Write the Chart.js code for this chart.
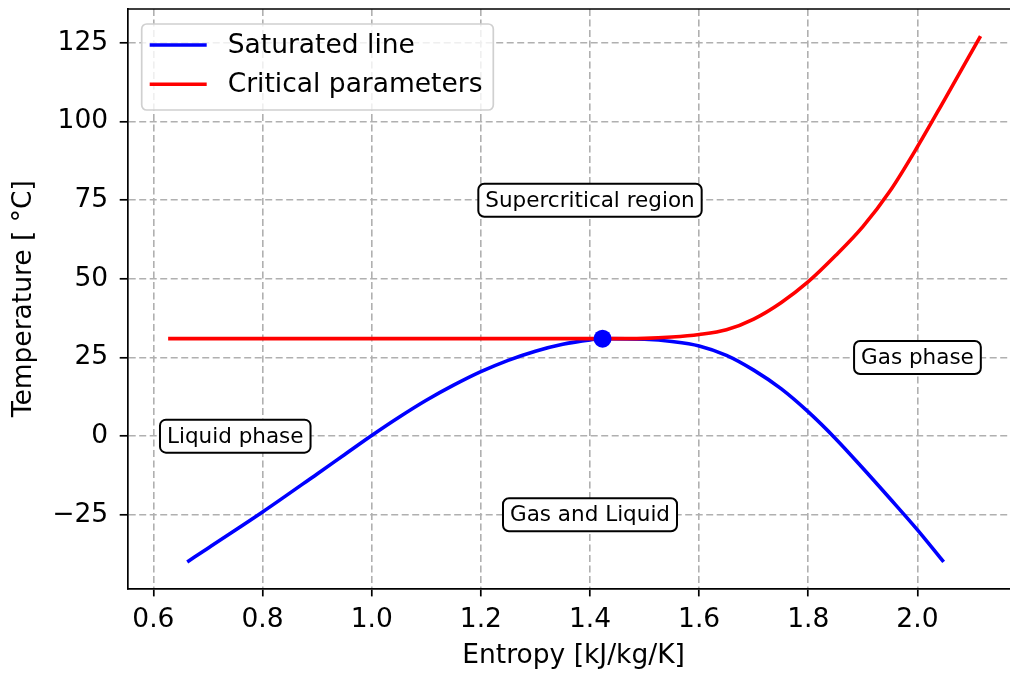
<!DOCTYPE html>
<html>
<head>
<meta charset="utf-8">
<script src="https://cdn.jsdelivr.net/npm/chart.js@4/dist/chart.umd.min.js"></script>
<style>
  html, body { margin: 0; padding: 0; overflow: hidden; background: #ffffff; }
  #wrap { width: 1030px; height: 675px; }
</style>
</head>
<body>
<div id="wrap"><canvas id="c" width="1030" height="675"></canvas></div>
<script>
// ---- data ----
const satEntropy = [0.662, 0.7, 0.8, 0.9, 0.95, 1.0, 1.05, 1.1, 1.15, 1.2, 1.25, 1.3, 1.35, 1.4, 1.423, 1.5, 1.55, 1.6, 1.65, 1.7, 1.75, 1.8, 1.85, 1.9, 1.95, 2.0, 2.048];
const satTemp    = [-40, -35.6, -24.1, -12.0, -5.9, 0.2, 6.0, 11.4, 16.2, 20.5, 24.1, 27.0, 29.2, 30.6, 31.0, 30.8, 30.1, 28.7, 25.7, 21.0, 15.1, 7.7, -0.8, -10.2, -19.9, -29.8, -40];
const critEntropy = [0.627, 1.0, 1.423, 1.5, 1.55, 1.6, 1.65, 1.7, 1.75, 1.8, 1.85, 1.9, 1.95, 2.0, 2.05, 2.1, 2.1156];
const critTemp    = [31.0, 31.0, 31.0, 31.1, 31.5, 32.3, 33.8, 37.2, 42.4, 49.1, 57.4, 66.6, 78.0, 92.0, 107.1, 122.4, 127.2];
const critPointEntropy = [1.423];
const critPointTemp    = [31.0];
const seriesLabels = ['Saturated line', 'Critical parameters'];

const xTicks = [0.6, 0.8, 1.0, 1.2, 1.4, 1.6, 1.8, 2.0];
const xTickLabels = ['0.6', '0.8', '1.0', '1.2', '1.4', '1.6', '1.8', '2.0'];
const yTicks = [-25, 0, 25, 50, 75, 100, 125];
const yTickLabels = ['\u221225', '0', '25', '50', '75', '100', '125'];

const annoLabels = ['Supercritical region', 'Liquid phase', 'Gas and Liquid', 'Gas phase'];
const annoX = [1.4, 0.75, 1.4, 2.0];
const annoY = [75, 0, -25, 25];

// ---- helpers / styling ----
const FONT = 'DejaVu Sans';
const mainSize = 26.5;
const annoSize = 21.5;
const toXY = (xs, ys) => xs.map((x, i) => ({ x: x, y: ys[i] }));

const framePlugin = {
  id: 'frameAndText',
  afterDatasetsDraw(chart) {
    const ctx = chart.ctx;
    const a = chart.chartArea;
    const xs = chart.scales.x, ys = chart.scales.y;
    // annotation boxes
    ctx.save();
    ctx.font = annoSize + 'px "' + FONT + '"';
    ctx.textAlign = 'center';
    ctx.textBaseline = 'middle';
    annoLabels.forEach((t, i) => {
      const px = xs.getPixelForValue(annoX[i]);
      const py = ys.getPixelForValue(annoY[i]);
      const w = ctx.measureText(t).width + 14;
      const h = 33;
      ctx.beginPath();
      ctx.roundRect(px - w / 2, py - h / 2, w, h, 6);
      ctx.fillStyle = '#ffffff';
      ctx.fill();
      ctx.lineWidth = 2;
      ctx.strokeStyle = '#000000';
      ctx.stroke();
      ctx.fillStyle = '#000000';
      ctx.fillText(t, px, py + 1);
    });
    ctx.restore();

    // top & right spines
    ctx.save();
    ctx.strokeStyle = '#000000';
    ctx.lineWidth = 1.7;
    ctx.beginPath();
    ctx.moveTo(a.left, a.top);
    ctx.lineTo(a.right, a.top);
    ctx.lineTo(a.right, a.bottom);
    ctx.stroke();
    ctx.restore();

    // legend
    ctx.save();
    const lx = a.left + 14, ly = a.top + 15;
    ctx.beginPath();
    ctx.roundRect(lx, ly, 351.6, 86, 5);
    ctx.fillStyle = 'rgba(255,255,255,0.8)';
    ctx.fill();
    ctx.lineWidth = 1.7;
    ctx.strokeStyle = '#d0d0d0';
    ctx.stroke();
    ctx.font = mainSize + 'px "' + FONT + '"';
    ctx.textAlign = 'left';
    ctx.textBaseline = 'middle';
    seriesLabels.forEach((lab, i) => {
      const ds = chart.data.datasets[i];
      const yy = ly + 21 + i * 39.3;
      ctx.beginPath();
      ctx.moveTo(lx + 8, yy);
      ctx.lineTo(lx + 65, yy);
      ctx.lineWidth = 3.6;
      ctx.strokeStyle = ds.borderColor;
      ctx.stroke();
      ctx.fillStyle = '#000000';
      ctx.fillText(lab, lx + 86, yy + 1);
    });
    ctx.restore();
  }
};

const gridCommon = {
  color: '#b0b0b0',
  lineWidth: 1.6,
  drawTicks: true,
  tickLength: 8,
  tickColor: '#000000',
  tickWidth: 1.7,
  tickBorderDash: []
};
const borderCommon = { display: true, color: '#000000', width: 1.7, dash: [7, 3.5] };

new Chart(document.getElementById('c'), {
  type: 'line',
  data: {
    datasets: [
      {
        label: seriesLabels[0],
        data: toXY(satEntropy, satTemp),
        borderColor: '#0000ff',
        borderWidth: 3.6,
        pointRadius: 0,
        fill: false,
        cubicInterpolationMode: 'monotone',
        order: 3
      },
      {
        label: seriesLabels[1],
        data: toXY(critEntropy, critTemp),
        borderColor: '#ff0000',
        borderWidth: 3.6,
        pointRadius: 0,
        fill: false,
        cubicInterpolationMode: 'monotone',
        order: 2
      },
      {
        label: 'Critical point',
        data: toXY(critPointEntropy, critPointTemp),
        showLine: false,
        pointRadius: 9,
        pointBackgroundColor: '#0000ff',
        pointBorderWidth: 0,
        borderColor: '#0000ff',
        order: 1
      }
    ]
  },
  options: {
    responsive: false,
    animation: false,
    devicePixelRatio: 1,
    layout: { padding: { left: 0, top: 8.4, right: 10.5, bottom: 0 } },
    plugins: { legend: { display: false }, tooltip: { enabled: false } },
    scales: {
      x: {
        type: 'linear',
        position: 'bottom',
        min: 0.5529,
        max: 2.187,
        afterFit(s) { s.height = 86.6; s.paddingLeft = 0; s.paddingRight = 0; },
        afterBuildTicks(s) { s.ticks = xTicks.map(v => ({ value: v })); },
        ticks: {
          callback: (v, i) => xTickLabels[i],
          font: { family: FONT, size: mainSize },
          color: '#000000',
          padding: 8,
          maxRotation: 0,
          autoSkip: false
        },
        grid: gridCommon,
        border: borderCommon,
        title: {
          display: true,
          text: 'Entropy [kJ/kg/K]',
          font: { family: FONT, size: mainSize },
          color: '#000000',
          padding: { top: 0, bottom: 3.1 }
        }
      },
      y: {
        type: 'linear',
        position: 'left',
        min: -48.4,
        max: 135.8,
        afterFit(s) { s.width = 127.7; s.paddingTop = 0; s.paddingBottom = 0; },
        afterBuildTicks(s) { s.ticks = yTicks.map(v => ({ value: v })); },
        ticks: {
          callback: (v, i) => yTickLabels[i],
          font: { family: FONT, size: mainSize },
          color: '#000000',
          padding: 11.5,
          autoSkip: false
        },
        grid: gridCommon,
        border: borderCommon,
        title: {
          display: true,
          text: 'Temperature [ \u00b0C]',
          font: { family: FONT, size: mainSize },
          color: '#000000',
          padding: { top: 8.1, bottom: 0 }
        }
      }
    }
  },
  plugins: [framePlugin]
});
</script>
</body>
</html>
